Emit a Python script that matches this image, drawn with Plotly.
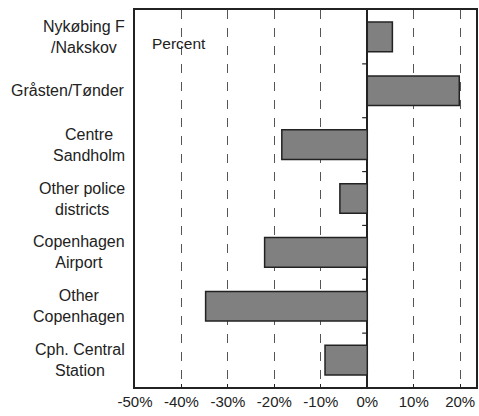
import plotly.graph_objects as go

categories = ["Nykøbing F<br>/Nakskov", "Gråsten/Tønder", "Centre<br>Sandholm",
              "Other police<br>districts", "Copenhagen<br>Airport", "Other<br>Copenhagen",
              "Cph. Central<br>Station"]
values = [5.4, 19.8, -18.4, -5.9, -22.1, -34.8, -9.1]
tick_vals = [-50, -40, -30, -20, -10, 0, 10, 20]
tick_text = ["-50%", "-40%", "-30%", "-20%", "-10%", "0%", "10%", "20%"]

FONT = "Liberation Sans, Arial, sans-serif"
INK = "#222222"
n = len(categories)

fig = go.Figure(go.Bar(
    x=values, y=list(range(n)), orientation="h", width=0.55,
    marker=dict(color="#808080", line=dict(color=INK, width=1.5)),
    hoverinfo="skip",
))

annotations = [dict(xref="paper", yref="y", x=0, y=i, xshift=-8, text=c,
                    showarrow=False, xanchor="right", yanchor="middle", align="center",
                    font=dict(family=FONT, size=16, color=INK))
               for i, c in enumerate(categories)]
annotations.append(dict(xref="x", yref="y", x=-46.8, y=0, yshift=-7, text="Percent",
                        showarrow=False, xanchor="left", yanchor="middle",
                        font=dict(family=FONT, size=15.5, color=INK)))

shapes = [dict(type="line", xref="x", yref="y", x0=-1.1, x1=0, y0=i + 0.5, y1=i + 0.5,
               line=dict(color=INK, width=1.2)) for i in range(n - 1)]

fig.update_layout(
    width=479, height=416, margin=dict(l=135, r=1, t=10, b=29),
    paper_bgcolor="white", plot_bgcolor="white", showlegend=False,
    annotations=annotations, shapes=shapes, bargap=0.45,
    xaxis=dict(range=[-50, 23.4], tickvals=tick_vals, ticktext=tick_text,
               showgrid=True, gridcolor="#555555", griddash="dash", gridwidth=1,
               zeroline=True, zerolinecolor=INK, zerolinewidth=1.5,
               showline=True, linecolor=INK, linewidth=1.5, mirror=True,
               ticks="inside", ticklen=3, tickcolor=INK, automargin=False,
               tickfont=dict(family=FONT, size=15, color=INK)),
    yaxis=dict(range=[n - 0.5, -0.5], showticklabels=False, showgrid=False,
               zeroline=False, showline=True, linecolor=INK, linewidth=1.5, mirror=True,
               ticks=""),
)

fig.write_html("out.html", config={"displayModeBar": False},
               post_script="document.body.style.margin='0';document.body.style.overflow='hidden';")
